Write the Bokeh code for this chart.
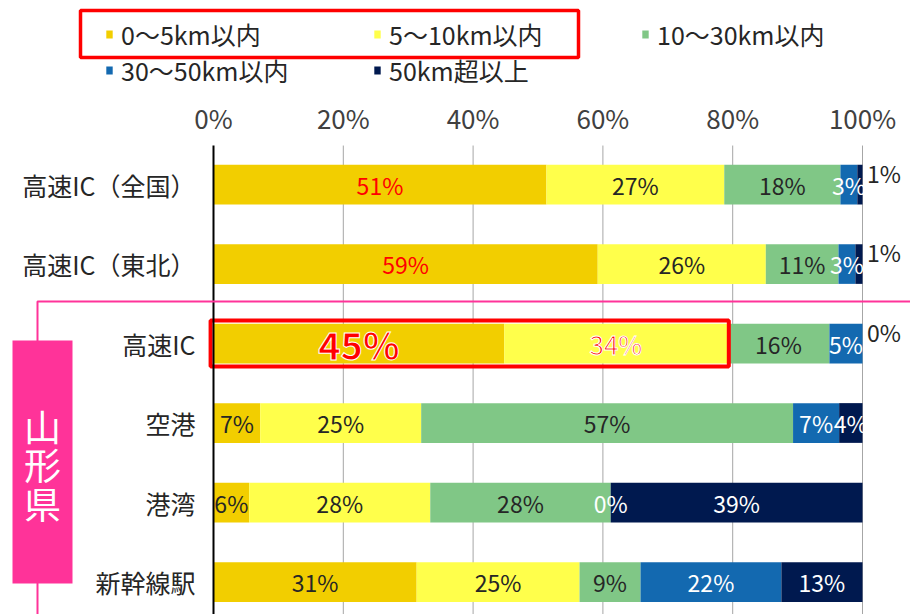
from bokeh.plotting import figure
from bokeh.models import (Range1d, FixedTicker, Legend, LegendItem, BoxAnnotation,
                          Label, ColumnDataSource, LinearAxis)
from bokeh.core.properties import value
from bokeh.embed import file_html
from bokeh.resources import INLINE

categories = ["高速IC（全国）", "高速IC（東北）", "高速IC", "空港", "港湾", "新幹線駅"]
series = ["0～5km以内", "5～10km以内", "10～30km以内", "30～50km以内", "50km超以上"]
km0_5 = [51.3, 59.2, 44.8, 7.2, 5.5, 31.3]
km5_10 = [27.4, 25.9, 34.4, 24.8, 27.9, 25.1]
km10_30 = [17.9, 11.2, 15.7, 57.3, 27.8, 9.4]
km30_50 = [2.6, 2.6, 5.1, 7.1, 0.0, 21.7]
km50_over = [0.8, 1.1, 0.0, 3.6, 38.8, 12.5]
x_ticks = [0, 20, 40, 60, 80, 100]
x_tick_labels = ["0%", "20%", "40%", "60%", "80%", "100%"]
region_label = "山形県"

colors = ["#F2CE00", "#FFFF4B", "#80C786", "#1369B0", "#00194F"]
label_colors = ["#262626", "#262626", "#262626", "#FFFFFF", "#FFFFFF"]
FONT = "Noto Sans CJK JP"

all_series = [km0_5, km5_10, km10_30, km30_50, km50_over]
n = len(categories)
rows = list(range(n))

W, H = 910, 614
PX_PER_PCT = 6.49
X0 = 213          # canvas x of 0 %
PX_PER_ROW = 79.5
Y0 = 184          # canvas y of first row centre
AXIS_Y = -0.49    # row coordinate of the top axis / top of plotting area

x_range = Range1d(-X0 / PX_PER_PCT, (W - X0) / PX_PER_PCT)
y_range = Range1d((H - Y0) / PX_PER_ROW, -Y0 / PX_PER_ROW)

p = figure(width=W, height=H, output_backend="svg", toolbar_location=None,
           x_range=x_range, y_range=y_range,
           x_axis_location=None, y_axis_location=None, min_border=0)
p.outline_line_color = None
p.grid.visible = False

# vertical grid lines (from the axis down)
grid_x = x_ticks[1:]
p.segment(x0=grid_x, x1=grid_x, y0=[AXIS_Y] * len(grid_x), y1=[y_range.start + 1] * len(grid_x),
          line_color="#A6A6A6", line_width=1)

# top axis
xaxis = LinearAxis(fixed_location=AXIS_Y, ticker=FixedTicker(ticks=x_ticks),
                   major_label_overrides={t: l for t, l in zip(x_ticks, x_tick_labels)},
                   axis_line_color=None, major_tick_line_color=None,
                   minor_tick_line_color=None,
                   major_label_text_font=FONT, major_label_text_font_size="26px",
                   major_label_text_color="#404040", major_label_standoff=4)
p.add_layout(xaxis, "above")

# bars
renderers = []
left = [0.0] * n
norm = dict(x=[], y=[], text=[], color=[])
emph = dict(x=[], y=[], text=[], size=[], style=[])
outside = dict(x=[], y=[], text=[])
for si, vals in enumerate(all_series):
    right = [l + v for l, v in zip(left, vals)]
    src = ColumnDataSource(dict(y=rows, left=left, right=right))
    r = p.hbar(y="y", left="left", right="right", height=0.5, source=src,
               fill_color=colors[si], line_color=None)
    renderers.append(r)
    for ri in rows:
        v = vals[ri]
        txt = f"{int(v + 0.5)}%"
        cx = (left[ri] + right[ri]) / 2
        if si == len(all_series) - 1 and v < 2:
            outside["x"].append(100.7)
            outside["y"].append(ri - 0.15)
            outside["text"].append(txt)
        elif ri == 2 and si in (0, 1):
            emph["x"].append(cx)
            emph["y"].append(ri)
            emph["text"].append(txt)
            emph["size"].append("38px" if si == 0 else "26px")
            emph["style"].append("bold" if si == 0 else "normal")
        else:
            norm["x"].append(cx)
            norm["y"].append(ri)
            norm["text"].append(txt)
            norm["color"].append("#FF0000" if (si == 0 and ri < 2) else label_colors[si])
    left = right

p.text(x="x", y="y", text="text", source=ColumnDataSource(norm), text_color="color",
       text_align="center", text_baseline="middle", text_font=value(FONT),
       text_font_size="23px")
p.text(x="x", y="y", text="text", source=ColumnDataSource(outside), text_color="#262626",
       text_align="left", text_baseline="middle", text_font=value(FONT),
       text_font_size="23px")
p.text(x="x", y="y", text="text", source=ColumnDataSource(emph), text_color="#FF0000",
       text_align="center", text_baseline="middle", text_font=value(FONT),
       text_font_size="size", text_font_style="style",
       text_outline_color="white")

# left category axis at 0 %
yaxis = LinearAxis(fixed_location=0, ticker=FixedTicker(ticks=rows),
                   major_label_overrides={i: c for i, c in enumerate(categories)},
                   bounds=(AXIS_Y, y_range.start + 1),
                   axis_line_color="black", axis_line_width=2,
                   major_tick_line_color=None, minor_tick_line_color=None,
                   major_label_text_font=FONT, major_label_text_font_size="25px",
                   major_label_text_color="#262626", major_label_standoff=12)
p.add_layout(yaxis, "left")

# highlight box around the 高速IC near segments
hl_right = km0_5[2] + km5_10[2]
p.quad(left=[-0.45], right=[hl_right + 0.2], top=[2 - 0.29], bottom=[2 + 0.29],
       fill_color=None, line_color="#FF0000", line_width=4)

# legend
legend = Legend(items=[LegendItem(label=s, renderers=[r]) for s, r in zip(series, renderers)],
                orientation="horizontal", ncols=3, location=(105, 526),
                label_text_font=FONT, label_text_font_size="25px", label_text_color="#262626",
                glyph_width=8, glyph_height=10, label_standoff=8, label_width=252,
                spacing=0, padding=0, margin=0,
                background_fill_alpha=0, border_line_color=None)
p.add_layout(legend, "center")

def canvas_box(**kw):
    return BoxAnnotation(left_units="canvas", right_units="canvas",
                         top_units="canvas", bottom_units="canvas", **kw)

# red box around first two legend items
p.add_layout(canvas_box(left=80, right=578, top=10, bottom=57,
                        fill_alpha=0, line_color="#FF0000", line_alpha=1, line_width=3.5))

# pink bracket for 山形県
p.add_layout(canvas_box(left=37, right=1200, top=301, bottom=1200,
                        fill_alpha=0, line_color="#FF3399", line_alpha=1, line_width=2))
p.add_layout(canvas_box(left=12, right=72, top=340, bottom=583,
                        fill_color="#FF3399", fill_alpha=1, line_color=None))
p.add_layout(Label(x=42, y=464, x_units="canvas", y_units="canvas",
                   text="\n".join(region_label), text_align="center",
                   text_baseline="middle", text_font=FONT, text_font_size="37px",
                   text_color="white", text_line_height=0.72))

open("out.html", "w").write(file_html(p, INLINE))
